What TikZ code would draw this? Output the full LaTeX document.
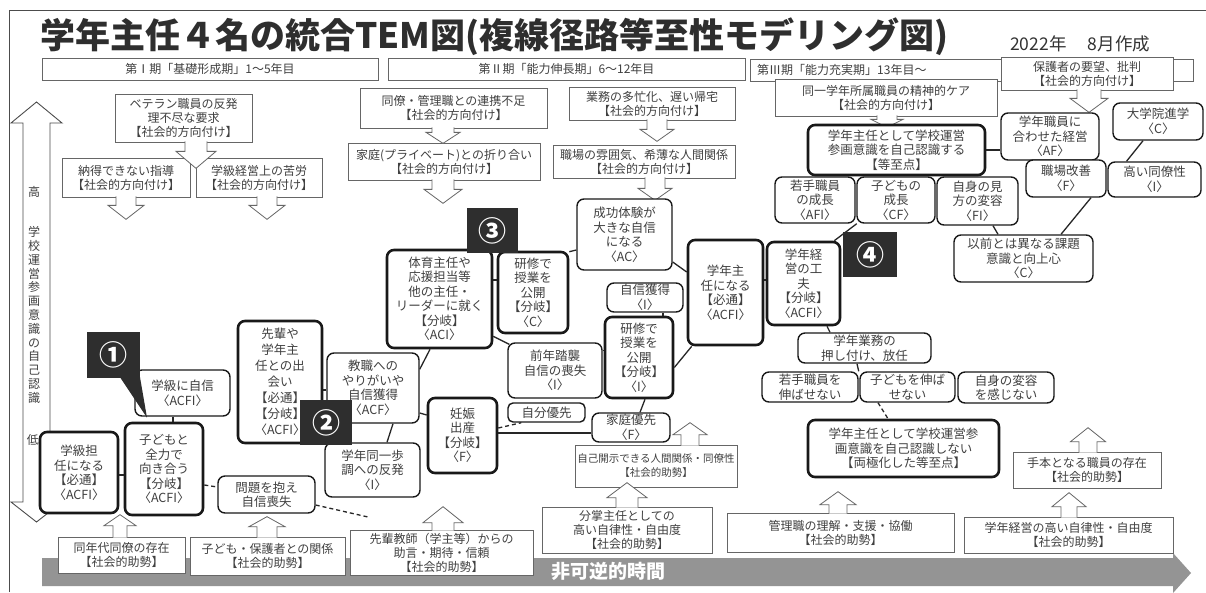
\documentclass[tikz,border=0pt]{standalone}
\usepackage{fontspec}
\setmainfont{Noto Sans CJK JP}
\usetikzlibrary{calc}
% block arrows: #1 start coordinate (box edge), #2 length, #3 shaft half width, #4 head half width, #5 head length
\newcommand\dnarr[5]{%
  \path #1 coordinate (arrt);
  \draw[blk] ($(arrt)+(-#3,-1)$) -- ++(0,{#2-#5+1}) -- ++({-(#4-#3)},0) -- ++(#4,#5) -- ++(#4,{-#5}) -- ++({-(#4-#3)},0) -- ++(0,{-(#2-#5+1)});
}
\newcommand\uparr[5]{%
  \path #1 coordinate (arrt);
  \draw[blk] ($(arrt)+(-#3,1)$) -- ++(0,{-(#2-#5+1)}) -- ++({-(#4-#3)},0) -- ++(#4,{-#5}) -- ++(#4,#5) -- ++({-(#4-#3)},0) -- ++(0,{#2-#5+1});
}
\begin{document}
\begin{tikzpicture}[x=1pt,y=-1pt,
 soc/.style={draw=black!60, line width=0.7pt, fill=white, text=black!75, align=center, inner sep=1pt, font=\fontsize{12}{14}\selectfont},
 rb/.style={draw=black!90, line width=1.4pt, rounded corners=7pt, fill=white, text=black!75, align=center, inner sep=1pt, font=\fontsize{12.5}{14.5}\selectfont},
 bb/.style={rb, line width=2.6pt},
 sz/.style 2 args={minimum width=#1, minimum height=#2},
 lk/.style={draw=black!85, line width=1.3pt},
 dlk/.style={lk, dash pattern=on 4pt off 3pt},
 blk/.style={draw=black!60, line width=0.8pt, fill=white},
 tag/.style={fill=black!82, text=white, inner sep=0pt, font=\fontsize{28}{28}\selectfont\bfseries},
 vt/.style={text=black!75, align=center, inner sep=0pt, font=\fontsize{12}{13.8}\selectfont},
]
\useasboundingbox (0,0) rectangle (1206,592);
\fill[white] (0,0) rectangle (1206,592);

% frame
\draw[black!70, line width=0.8pt] (9,592) -- (9,10) -- (1206,10);

% time arrow
\fill[black!42] (42,558) -- (1173,558) -- (1173,553) -- (1191,573) -- (1173,593) -- (1173,586) -- (42,586) -- cycle;
\node[font=\fontsize{19}{19}\selectfont\bfseries, text=white] (tm) at (608,571) {非可逆的時間};

% title and date
\node[anchor=west, font=\fontsize{35}{35}\selectfont\bfseries, text=black!82, inner sep=0pt] (title) at (40,37) {学年主任４名の統合TEM図(複線径路等至性モデリング図)};
\node[anchor=west, font=\fontsize{17.5}{17.5}\selectfont, text=black!80, inner sep=0pt] (date) at (1010,44) {2022年\quad\ 8月作成};

% left vertical double arrow
\draw[black!70, line width=0.9pt, fill=white] (36.5,102) -- (62,123) -- (50,123) -- (50,502) -- (62,502) -- (36.5,522) -- (11,502) -- (23,502) -- (23,123) -- (11,123) -- cycle;
\node[vt] (hi) at (34,192) {高};
\node[vt] (axis) at (34,315) {学\\校\\運\\営\\参\\画\\意\\識\\の\\自\\己\\認\\識};
\node[vt] (lo) at (33,440) {低};

% period boxes
\node[soc, sz={336}{22}] (p1) at (210,69) {第Ⅰ期「基礎形成期」1～5年目};
\node[soc, sz={357}{22}] (p2) at (566.5,69) {第Ⅱ期「能力伸長期」6～12年目};
\node[soc, sz={443}{22}] (p3) at (971.5,70) {};
\node[anchor=west, text=black!75, font=\fontsize{12}{14}\selectfont, inner sep=0pt] (p3t) at (757,70) {第Ⅲ期「能力充実期」13年目～};

% social direction boxes
\node[soc, sz={137}{48}] (A1) at (183.5,118) {ベテラン職員の反発\\理不尽な要求\\【社会的方向付け】};
\node[soc, sz={128}{39}] (A2) at (126,177.5) {納得できない指導\\【社会的方向付け】};
\node[soc, sz={126}{39}] (A3) at (259,177.5) {学級経営上の苦労\\【社会的方向付け】};
\node[soc, sz={187}{40}] (B1) at (453.5,108) {同僚・管理職との連携不足\\【社会的方向付け】};
\node[soc, sz={192}{37}] (B2) at (444,161.5) {家庭(プライベート)との折り合い\\【社会的方向付け】};
\node[soc, sz={166}{33}] (B3) at (652,103.5) {業務の多忙化、遅い帰宅\\【社会的方向付け】};
\node[soc, sz={182}{33}] (B4) at (644,161.5) {職場の雰囲気、希薄な人間関係\\【社会的方向付け】};
\node[soc, sz={222}{37}] (C1) at (886,97.5) {同一学年所属職員の精神的ケア\\【社会的方向付け】};
\node[soc, sz={172}{33}] (P) at (1087,73.5) {保護者の要望、批判\\【社会的方向付け】};

% social assist boxes
\node[soc, sz={127}{36}] (D1) at (121.5,555) {同年代同僚の存在\\【社会的助勢】};
\node[soc, sz={155}{38}] (D2) at (267.5,556) {子ども・保護者との関係\\【社会的助勢】};
\node[soc, sz={183}{45}] (D3) at (441.5,552.5) {先輩教師（学主等）からの\\助言・期待・信頼\\【社会的助勢】};
\node[soc, sz={162}{42}, font=\fontsize{10.5}{14}\selectfont] (D4) at (656,466) {自己開示できる人間関係・同僚性\\【社会的助勢】};
\node[soc, sz={170}{46}] (D5) at (627,530) {分掌主任としての\\高い自律性・自由度\\【社会的助勢】};
\node[soc, sz={227}{39}] (D6) at (840.5,532.5) {管理職の理解・支援・協働\\【社会的助勢】};
\node[soc, sz={209}{36}] (D7) at (1068.5,535) {学年経営の高い自律性・自由度\\【社会的助勢】};
\node[soc, sz={148}{36}] (D8) at (1087,470) {手本となる職員の存在\\【社会的助勢】};

% block arrows (down)
\dnarr{($(A1.south)+(12.5,0)$)}{26}{11}{20}{17}
\dnarr{(A2.south)}{22}{10}{18}{14}
\dnarr{($(A3.south)+(8,0)$)}{22}{10}{18}{14}
\dnarr{($(B1.south)+(-10.5,0)$)}{15}{11}{17}{11}
\dnarr{($(B2.south)+(-1,0)$)}{23}{11}{19}{14}
\dnarr{($(B3.south)+(5,0)$)}{21}{10}{17}{12}
\dnarr{($(B4.south)+(11,0)$)}{22}{10}{17}{12}
\dnarr{($(C1.south)+(1,0)$)}{11}{10}{16}{8}
\dnarr{($(P.south)+(2,0)$)}{22}{12}{19}{14}
% block arrows (up)
\uparr{($(D1.north)+(-1.5,0)$)}{22}{7}{16}{11}
\uparr{($(D2.north)+(-0.5,0)$)}{20}{10}{18}{10}
\uparr{($(D3.north)+(1.5,0)$)}{23}{11}{20}{16}
\uparr{($(D4.north)+(34,0)$)}{22}{9}{17}{12}
\uparr{(D5.north)}{24}{11}{20}{15}
\uparr{($(D6.north)+(-2.5,0)$)}{21}{9}{18}{13}
\uparr{($(D7.north)+(0.5,0)$)}{24}{8}{17}{14}
\uparr{($(D8.north)+(1,0)$)}{24}{9}{17.5}{14}

% rounded nodes
\node[bb, sz={177}{50}] (C2) at (896.5,150) {学年主任として学校運営\\参画意識を自己認識する\\【等至点】};
\node[rb, sz={98}{47}] (C3) at (1050,136.5) {学年職員に\\合わせた経営\\〈AF〉};
\node[rb, sz={90}{37}] (C4) at (1158,121.5) {大学院進学\\〈C〉};
\node[rb, sz={80}{37}] (C5) at (1066,178.5) {職場改善\\〈F〉};
\node[rb, sz={93}{35}] (C6) at (1154.5,179.5) {高い同僚性\\〈I〉};
\node[rb, sz={139}{47}] (C7) at (1023.5,258.5) {以前とは異なる課題\\意識と向上心\\〈C〉};
\node[rb, sz={80}{46}] (C8a) at (815,200) {若手職員\\の成長\\〈AFI〉};
\node[rb, sz={78}{46}] (C8b) at (896,200) {子どもの\\成長\\〈CF〉};
\node[rb, sz={81}{48}] (C8c) at (977.5,201) {自身の見\\方の変容\\〈FI〉};
\node[bb, sz={73}{83}] (C9) at (803.5,283.5) {学年経\\営の工\\夫\\【分岐】\\〈ACFI〉};
\node[bb, sz={75}{105}] (C10) at (725.5,292.5) {学年主\\任になる\\【必通】\\〈ACFI〉};
\node[rb, sz={95}{71}] (C11) at (624.5,234.5) {成功体験が\\大きな自信\\になる\\〈AC〉};
\node[rb, sz={76}{29}] (C12) at (645,297.5) {自信獲得\\〈I〉};
\node[bb, sz={68}{81}] (C13) at (639,357.5) {研修で\\授業を\\公開\\【分岐】\\〈I〉};
\node[rb, sz={78}{29}] (C14) at (631,427.5) {家庭優先\\〈F〉};
\node[bb, sz={105}{98}] (C15) at (439.5,299) {体育主任や\\応援担当等\\他の主任・\\リーダーに就く\\【分岐】\\〈ACI〉};
\node[bb, sz={70}{81}] (C16) at (533,292.5) {研修で\\授業を\\公開\\【分岐】\\〈C〉};
\node[rb, sz={94}{55}] (C17) at (555,370.5) {前年踏襲\\自信の喪失\\〈I〉};
\node[rb, sz={92}{70}] (C18) at (373,388) {教職への\\やりがいや\\自信獲得\\〈ACF〉};
\node[bb, sz={84}{122}, font=\fontsize{12.5}{16}\selectfont] (C19) at (280,382) {先輩や\\学年主\\任との出\\会い\\【必通】\\【分岐】\\〈ACFI〉};
\node[rb, sz={95}{54}] (C20) at (372.5,470) {学年同一歩\\調への反発\\〈I〉};
\node[bb, sz={69}{75}] (C21) at (462.5,435.5) {妊娠\\出産\\【分岐】\\〈F〉};
\node[rb, sz={77}{19}, rounded corners=5pt] (C22) at (546.5,412.5) {自分優先};
\node[rb, sz={95}{46}] (C23) at (182.5,393) {学級に自信\\〈ACFI〉};
\node[bb, sz={78}{92}] (C24) at (164,469) {子どもと\\全力で\\向き合う\\【分岐】\\〈ACFI〉};
\node[bb, sz={78}{81}] (C25) at (79,472.5) {学級担\\任になる\\【必通】\\〈ACFI〉};
\node[rb, sz={97}{37}] (C26) at (266.5,494.5) {問題を抱え\\自信喪失};
\node[bb, sz={191}{57}] (C27) at (903.5,448.5) {学年主任として学校運営参\\画意識を自己認識しない\\【両極化した等至点】};
\node[rb, sz={133}{30}] (C28) at (864.5,348) {学年業務の\\押し付け、放任};
\node[rb, sz={96}{30}] (C29a) at (810,387) {若手職員を\\伸ばせない};
\node[rb, sz={95}{30}] (C29b) at (907.5,387) {子どもを伸ば\\せない};
\node[rb, sz={96}{31}] (C29c) at (1006,387.5) {自身の変容\\を感じない};
\coordinate (fe) at (368,517);

% connectors
\draw[lk] (C2.east) -- (C2.east -| C3.west);
\draw[lk] ($(C4.south)+(-15,0)$) -- ($(C6.north)+(-28,0)$);
\draw[lk] ($(C5.south)+(25,0)$) -- ($(C7.north)+(37.5,0)$);
\draw[lk] ($(C8c.south)+(15.5,0)$) -- ($(C7.north)+(-25.5,0)$);
\draw[lk] (C2.south -| C8a.east) -- (C8a.north east);
\draw[lk] ($(C9.north east)+(-7,0)$) -- ($(C8a.south east)+(1,0)$);
\draw[lk] ($(C10.east)+(0,-12.5)$) -- ($(C9.west)+(0,-3.5)$);
\draw[lk] ($(C11.east)+(0,27.5)$) -- ($(C10.west)+(0,-20.5)$);
\draw[lk] ($(C12.south)+(18,0)$) -- ($(C13.north)+(24,0)$);
\draw[lk] ($(C13.east)+(0,10)$) -- ($(C10.south west)+(5,0)$);
\draw[lk] ($(C13.south)+(6,0)$) -- ($(C14.north)+(9,0)$);
\draw[lk] ($(C15.east)+(0,-19)$) -- ($(C16.west)+(0,-12.5)$);
\draw[lk] ($(C16.north east)+(0,1)$) -- ($(C11.west)+(0,15.5)$);
\draw[lk] ($(C15.south east)+(0,-13)$) -- ($(C17.north west)+(2,2)$);
\draw[lk] ($(C17.east)+(0,-20)$) -- ($(C13.west)+(0,-7)$);
\draw[lk] ($(C15.south)+(-9.5,0)$) -- ($(C18.north east)+(0,17)$);
\draw[lk] ($(C19.east)+(0,8)$) -- ($(C18.west)+(0,2)$);
\draw[lk] ($(C18.south)+(20,0)$) -- ($(C20.north)+(14.5,0)$);
\draw[lk] ($(C18.east)+(0,25)$) -- ($(C21.west)+(0,-20.5)$);
\draw[lk] ($(C21.east)+(0,-2.5)$) -- ($(C14.west)+(0,5.5)$);
\draw[dlk] ($(C21.east)+(0,-7.5)$) -- ($(C22.south west)+(14,0)$);
\draw[lk] ($(C23.south)+(-9.5,0)$) -- ($(C24.north)+(9,0)$);
\draw[lk] ($(C25.east)+(0,2.5)$) -- ($(C24.west)+(0,6)$);
\draw[dlk] ($(C24.east)+(0,16)$) -- ($(C26.west)+(0,-7.5)$);
\draw[dlk] ($(C26.east)+(0,10.5)$) -- (fe);
\draw[lk] ($(C9.south)+(23.5,0)$) -- ($(C28.north)+(-34.5,0)$);
\draw[lk] ($(C28.south)+(-7.5,0)$) -- (C29a.north east);
\draw[dlk] ($(C29b.south)+(-29.5,0)$) -- ($(C27.north)+(-15.5,0)$);

% numbered tags
\node[tag, sz={53}{46}] (t1) at (113.5,355) {①};
\fill[black!82] ($(t1.south)+(6.5,-1)$) -- ($(C24.north)+(-17,-4)$) -- ($(t1.south)+(26.5,-1)$) -- cycle;
\node[tag, sz={52}{45}] (t2) at (326,422.5) {②};
\node[tag, sz={51}{45}] (t3) at (492.5,230.5) {③};
\node[tag, sz={54}{45}] (t4) at (870,254.5) {④};
\end{tikzpicture}
\end{document}
